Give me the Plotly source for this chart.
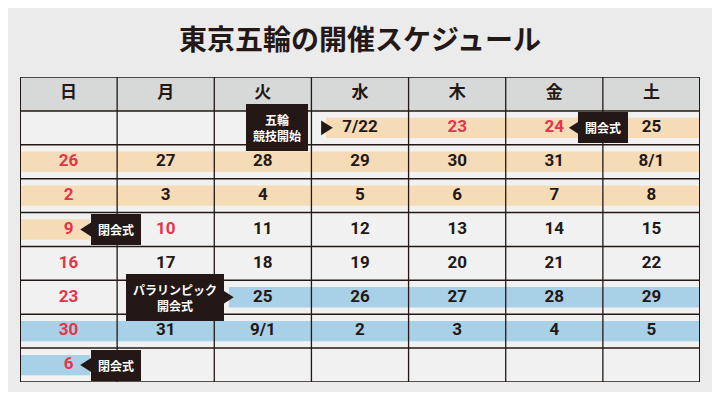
import plotly.graph_objects as go

# data
weekdays = ["日", "月", "火", "水", "木", "金", "土"]
weeks = [
    ["", "", "", "7/22", "23", "24", "25"],
    ["26", "27", "28", "29", "30", "31", "8/1"],
    ["2", "3", "4", "5", "6", "7", "8"],
    ["9", "10", "11", "12", "13", "14", "15"],
    ["16", "17", "18", "19", "20", "21", "22"],
    ["23", "", "25", "26", "27", "28", "29"],
    ["30", "31", "9/1", "2", "3", "4", "5"],
    ["6", "", "", "", "", "", ""],
]
holidays = {(0, 4), (0, 5), (3, 1)}  # red besides Sundays
# bands: (week row, start col, end col)
olympic_bands = [(0, 3.15, 7), (1, 0, 7), (2, 0, 7), (3, 0, 0.72)]
paralympic_bands = [(5, 2.15, 7), (6, 0, 7), (7, 0, 0.72)]
# callouts: (text, x, y, arrow tip x, direction)
callouts = [
    ("五輪<br>競技開始", 2.65, 1.5, 3.22, "right"),
    ("開会式", 6.0, 1.5, 5.65, "left"),
    ("閉会式", 0.99, 4.5, 0.62, "left"),
    ("パラリンピック<br>開会式", 1.6, 6.5, 2.2, "right"),
    ("閉会式", 0.99, 8.5, 0.62, "left"),
]

INK = "#231815"
RED = "#e8334a"
ORANGE = "#f5dcb6"
BLUE = "#a8d0e6"

fig = go.Figure()
shapes = []
# cell backgrounds
shapes.append(dict(type="rect", x0=0, x1=7, y0=1, y1=9, fillcolor="#f1f1f1", line_width=0, layer="below"))
shapes.append(dict(type="rect", x0=0, x1=7, y0=0, y1=1, fillcolor="#d7d8d8", line_width=0, layer="below"))
for bands, col in [(olympic_bands, ORANGE), (paralympic_bands, BLUE)]:
    for r, a, b in bands:
        shapes.append(dict(type="rect", x0=a, x1=b, y0=r + 1.2, y1=r + 1.8,
                           fillcolor=col, line_width=0, layer="below"))
for i in range(8):
    shapes.append(dict(type="line", x0=i, x1=i, y0=0, y1=9,
                       line=dict(color=INK, width=2 if i in (0, 7) else 1.3), layer="below"))
for j in range(10):
    shapes.append(dict(type="line", x0=0, x1=7, y0=j, y1=j,
                       line=dict(color=INK, width=1.5), layer="below"))

fig.add_trace(go.Scatter(
    x=[i + 0.5 for i in range(7)], y=[0.5] * 7, text=weekdays, mode="text",
    textfont=dict(family="Noto Sans CJK JP", size=17, color=INK, weight="bold"),
    hoverinfo="skip"))

xs, ys, ts, cs = [], [], [], []
for r, row in enumerate(weeks):
    for c, t in enumerate(row):
        if t:
            xs.append(c + 0.5)
            ys.append(r + 1.5)
            ts.append(t)
            cs.append(RED if c == 0 or (r, c) in holidays else INK)
fig.add_trace(go.Scatter(
    x=xs, y=ys, text=ts, mode="text",
    textfont=dict(family="Roboto", size=17, color=cs, weight="bold"),
    hoverinfo="skip"))

annotations = []
for text, x, y, tip, d in callouts:
    annotations.append(dict(x=x, y=y, text=text, showarrow=False,
                            font=dict(family="Noto Sans CJK JP", size=12, color="white", weight="bold"),
                            bgcolor=INK, bordercolor=INK, borderpad=6))
    base = tip - 0.12 if d == "right" else tip + 0.12
    shapes.append(dict(type="path", path=f"M {base} {y - 0.22} L {tip} {y} L {base} {y + 0.22} Z",
                       fillcolor=INK, line_width=0, layer="above"))

# page body has an 8px margin, so the figure is 704x384 offset by 8px
fig.update_layout(
    width=704, height=384,
    margin=dict(l=12, r=12, t=69, b=10),
    paper_bgcolor="#ebebeb", plot_bgcolor="#ebebeb",
    showlegend=False,
    xaxis=dict(range=[0, 7], visible=False, fixedrange=True),
    yaxis=dict(range=[9, 0], visible=False, fixedrange=True),
    shapes=shapes, annotations=annotations,
    title=dict(text="東京五輪の開催スケジュール", x=0.5, y=0.917, xanchor="center", yanchor="middle",
               font=dict(family="Noto Sans CJK JP", size=28, color=INK, weight="bold")),
)

fig.write_html("out.html")
